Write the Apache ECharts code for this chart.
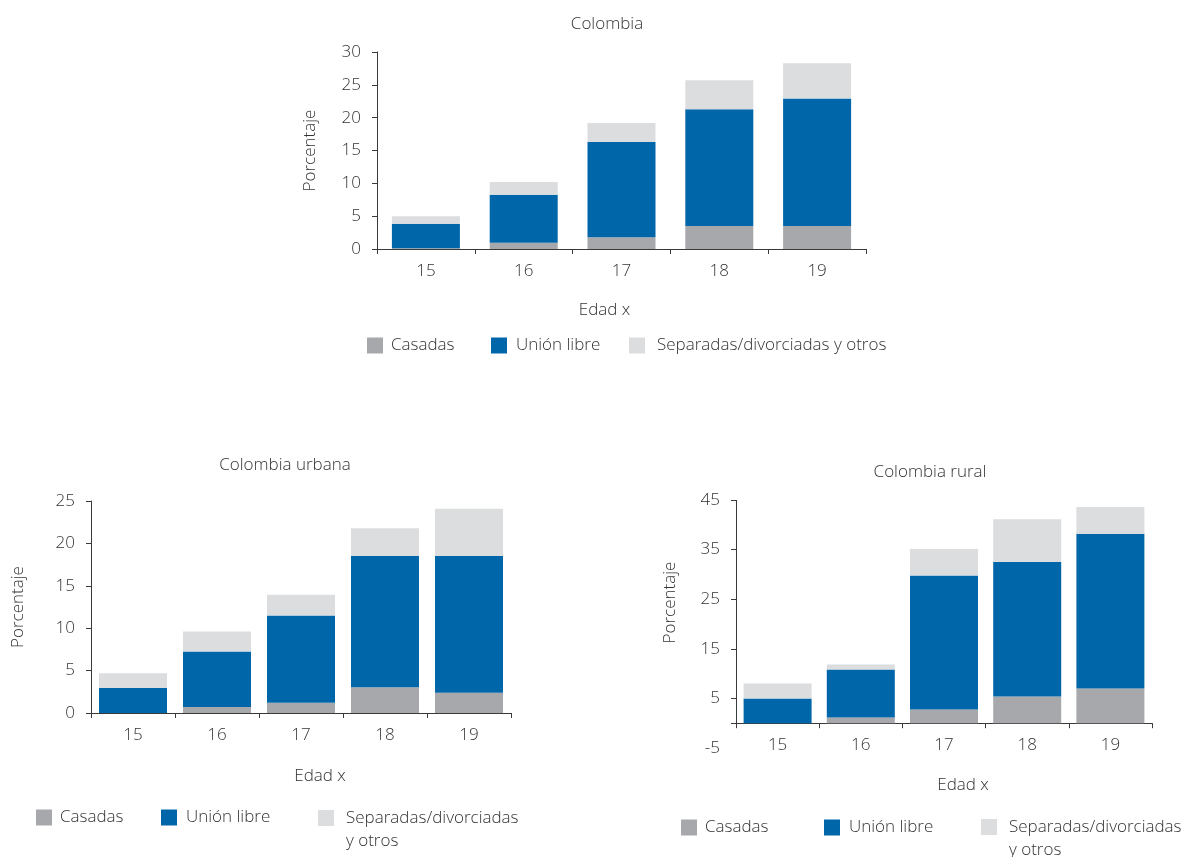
<!DOCTYPE html>
<html><head><meta charset="utf-8">
<script src="https://cdn.jsdelivr.net/npm/echarts@6/dist/echarts.min.js"></script>
<style>html,body{margin:0;padding:0;background:#fff}#c{width:1184px;height:857px}</style>
</head><body><div id="c"></div>
<script>
const categories = ['15', '16', '17', '18', '19'];
const seriesNames = ['Casadas', 'Unión libre', 'Separadas/divorciadas y otros'];
const colCasadas = [0.1, 0.95, 1.8, 3.5, 3.5];
const colUnion = [3.75, 7.3, 14.5, 17.8, 19.4];
const colSep = [1.15, 1.95, 2.9, 4.4, 5.4];
const urbCasadas = [0, 0.7, 1.2, 3.05, 2.4];
const urbUnion = [2.95, 6.55, 10.3, 15.45, 16.1];
const urbSep = [1.75, 2.35, 2.45, 3.3, 5.6];
const rurCasadas = [0, 1.15, 2.75, 5.4, 7.0];
const rurUnion = [5.0, 9.7, 27.05, 27.1, 31.2];
const rurSep = [3.0, 1.0, 5.3, 8.6, 5.4];
const rurTickLabels = [-5, 5, 15, 25, 35, 45];
const rurTicks = [0, 5, 15, 25, 35, 45];
const titles = ['Colombia', 'Colombia urbana', 'Colombia rural'];
const yName = 'Porcentaje';
const xName = 'Edad x';

const colors = ['#a7a8ab', '#0066aa', '#dcdddf'];
const txt = '#333333';
const axisCol = '#3a3a3a';
const FONT = 'Open Sans';
const FW = 300;
const FS = 17;

const grids = [
  {left: 377, right: 318, top: 52, bottom: 608},
  {left: 91, right: 673, top: 501, bottom: 144},
  {left: 736, right: 32, top: 500, bottom: 109}
];

const chart = echarts.init(document.getElementById('c'));

function ts(extra) {
  return Object.assign({color: txt, fontSize: FS, fontFamily: FONT, fontWeight: FW}, extra || {});
}

function xAxisFor(i, shift, labelMargin, nameGap) {
  return {
    type: 'category', gridIndex: i, data: categories,
    axisLine: {show: true, lineStyle: {color: axisCol, width: 1}},
    axisTick: {show: true, length: 5, lineStyle: {color: axisCol}},
    axisLabel: ts({margin: labelMargin}),
    name: xName, nameLocation: 'middle', nameGap: nameGap,
    nameTextStyle: ts({padding: shift < 0 ? [0, -2 * shift, 0, 0] : [0, 0, 0, 2 * shift]}),
    splitLine: {show: false}
  };
}
function yAxisFor(i, extra, gap, pad) {
  return Object.assign({
    type: 'value', gridIndex: i,
    axisLine: {show: true, lineStyle: {color: axisCol, width: 1}},
    axisTick: {show: true, length: 5, lineStyle: {color: axisCol}},
    axisLabel: ts({margin: 16}),
    splitLine: {show: false},
    name: yName, nameLocation: 'middle', nameRotate: 90, nameGap: gap,
    nameTextStyle: ts({padding: pad || 0})
  }, extra);
}

const datasets = [
  [colCasadas, colUnion, colSep],
  [urbCasadas, urbUnion, urbSep],
  [rurCasadas, rurUnion, rurSep]
];
const series = [];
datasets.forEach((d, gi) => {
  d.forEach((vals, si) => {
    series.push({
      type: 'bar', name: seriesNames[si], stack: 'g' + gi,
      xAxisIndex: gi, yAxisIndex: gi, data: vals, barWidth: 68,
      itemStyle: {color: colors[si]}, emphasis: {disabled: true}
    });
  });
});

function legendItem(name, left, iconTop, multi, textPad) {
  const base = {
    data: [name], left: left, orient: 'horizontal', padding: 0,
    itemWidth: 16, itemHeight: 16, icon: 'rect', selectedMode: false,
    textStyle: ts({lineHeight: 16, padding: [0, 0, 0, textPad]})
  };
  if (multi) {
    base.top = iconTop - 26.5;
    base.formatter = () => ' \nSeparadas/divorciadas\ny otros';
    base.textStyle = ts({lineHeight: 23, padding: [0, 0, 0, textPad]});
  } else {
    base.top = iconTop;
  }
  return base;
}

const legends = [
  legendItem(seriesNames[0], 367, 337, false, 3), legendItem(seriesNames[1], 491, 337, false, 4), legendItem(seriesNames[2], 629, 337, false, 7),
  legendItem(seriesNames[0], 36, 809, false, 3), legendItem(seriesNames[1], 161, 809, false, 4), legendItem(seriesNames[2], 318, 810, true, 7),
  legendItem(seriesNames[0], 681, 819, false, 3), legendItem(seriesNames[1], 824, 819, false, 4), legendItem(seriesNames[2], 981, 819, true, 7)
];

function titleAt(text, x, y) {
  return {text: text, left: x, top: y, textAlign: 'center', textVerticalAlign: 'middle', padding: 0,
    textStyle: ts()};
}

const option = {
  animation: false,
  backgroundColor: '#ffffff',
  title: [titleAt(titles[0], 607, 24), titleAt(titles[1], 285, 465), titleAt(titles[2], 930, 472)],
  legend: legends,
  grid: grids,
  xAxis: [xAxisFor(0, -17, 14, 53), xAxisFor(1, 19, 14, 55), xAxisFor(2, 19, -11, 29)],
  yAxis: [
    yAxisFor(0, {min: 0, max: 30, interval: 5}, 58),
    yAxisFor(1, {min: 0, max: 25, interval: 5}, 64),
    yAxisFor(2, {min: -5, max: 45,
      axisLine: {show: false},
      axisTick: {show: true, length: 5, lineStyle: {color: axisCol}, customValues: rurTicks},
      axisLabel: ts({margin: 16, customValues: rurTickLabels})
    }, 57, [0, 0, 0, 43])
  ],
  series: series
};
chart.setOption(option);

const yTop = chart.convertToPixel({yAxisIndex: 2}, 45);
const yZero = chart.convertToPixel({yAxisIndex: 2}, 0);
const gx = Math.round(grids[2].left) + 0.5;
chart.setOption({graphic: [{type: 'line', silent: true,
  shape: {x1: gx, y1: yTop, x2: gx, y2: yZero},
  style: {stroke: axisCol, lineWidth: 1}}]});
</script>
</body></html>
